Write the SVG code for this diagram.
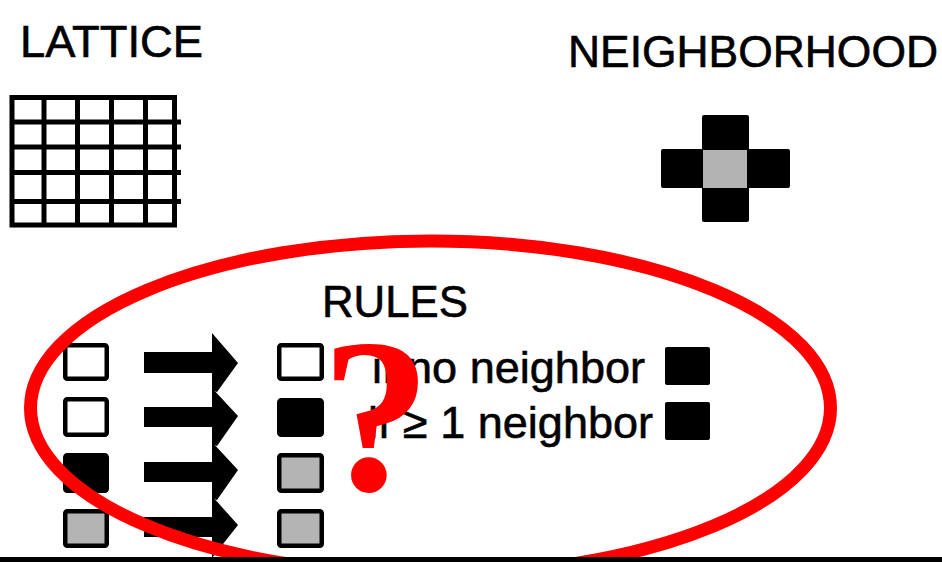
<svg xmlns="http://www.w3.org/2000/svg" width="942" height="562" viewBox="0 0 942 562">
<style>
.lbl{font-family:"Liberation Sans",Arial,sans-serif;font-size:44px;fill:#000;stroke:#000;stroke-width:0.6}
.rule{font-family:"Liberation Sans",Arial,sans-serif;font-size:45px;fill:#000;stroke:#000;stroke-width:0.6}
.grid{stroke:#000;stroke-width:5;fill:none}
.cell{stroke:#000;stroke-width:4.5;}
.white{fill:#fff}
.black{fill:#000}
.gray{fill:#b4b4b4}
.arrow{fill:#000}
</style>
<rect width="942" height="562" fill="#fff"/>
<g id="lattice">
<text class="lbl" x="20" y="57" textLength="183" lengthAdjust="spacingAndGlyphs">LATTICE</text>
<rect class="grid" x="12" y="97.5" width="162.5" height="127.5"/>
<path class="grid" d="M44 97.5V225M77.5 97.5V225M111.5 97.5V225M145.5 97.5V225M12 122H181M12 147H181M12 172.5H181M12 201.5H181"/>
</g>
<g id="neighborhood">
<text class="lbl" x="568" y="67" textLength="370" lengthAdjust="spacingAndGlyphs">NEIGHBORHOOD</text>
<rect x="702" y="115" width="47" height="107" rx="2" fill="#000"/>
<rect x="661" y="149" width="129" height="39" rx="2" fill="#000"/>
<rect x="703" y="150" width="44" height="38" fill="#b3b3b3"/>
</g>
<g id="rules">
<text class="lbl" x="322" y="317" textLength="146" lengthAdjust="spacingAndGlyphs">RULES</text>
<g id="before">
<rect class="cell white" x="65.25" y="345.25" width="41.5" height="33.5" rx="2"/>
<rect class="cell white" x="65.25" y="399.25" width="41.5" height="35.5" rx="2"/>
<rect class="cell black" x="65.25" y="455.25" width="41.5" height="35.5" rx="2"/>
<rect class="cell gray" x="65.25" y="511.25" width="41.5" height="34.5" rx="2"/>
</g>
<g id="after">
<rect class="cell white" x="279.25" y="345.25" width="42.5" height="33.5" rx="2"/>
<rect class="cell black" x="279.25" y="400.25" width="42.5" height="34.5" rx="2"/>
<rect class="cell gray" x="279.25" y="455.25" width="42.5" height="35.5" rx="2"/>
<rect class="cell gray" x="279.25" y="511.25" width="42.5" height="34.5" rx="2"/>
</g>
<text class="rule" x="372" y="383" textLength="273" lengthAdjust="spacingAndGlyphs">if no neighbor</text>
<text class="rule" x="368" y="438" textLength="285" lengthAdjust="spacingAndGlyphs">if ≥ 1 neighbor</text>
<rect x="665" y="347" width="45" height="38" rx="2" fill="#000"/>
<rect x="665" y="402" width="45" height="38" rx="2" fill="#000"/>
</g>
<g id="connectors">
<polygon class="arrow" points="144,352 212,352 212,333 238,363 217,392 212,390 212,373 144,373"/>
<polygon class="arrow" points="144,407 212,407 212,388 238,416 217,446 212,444 212,427 144,427"/>
<polygon class="arrow" points="144,462 212,462 212,442 238,470 217,500 212,498 212,482 144,482"/>
<polygon class="arrow" points="144,517 212,517 212,496 238,525 212,558 212,537 144,537"/>
</g>
<g id="overlay">
<ellipse cx="430.5" cy="408" rx="400" ry="167" fill="none" stroke="#ff0000" stroke-width="13"/>
<text x="376" y="490" text-anchor="middle" font-family="'Liberation Serif','Times New Roman',serif" font-weight="bold" font-size="220" fill="#ff0000">?</text>
</g>
<rect x="0" y="557" width="942" height="5" fill="#000"/>
</svg>
